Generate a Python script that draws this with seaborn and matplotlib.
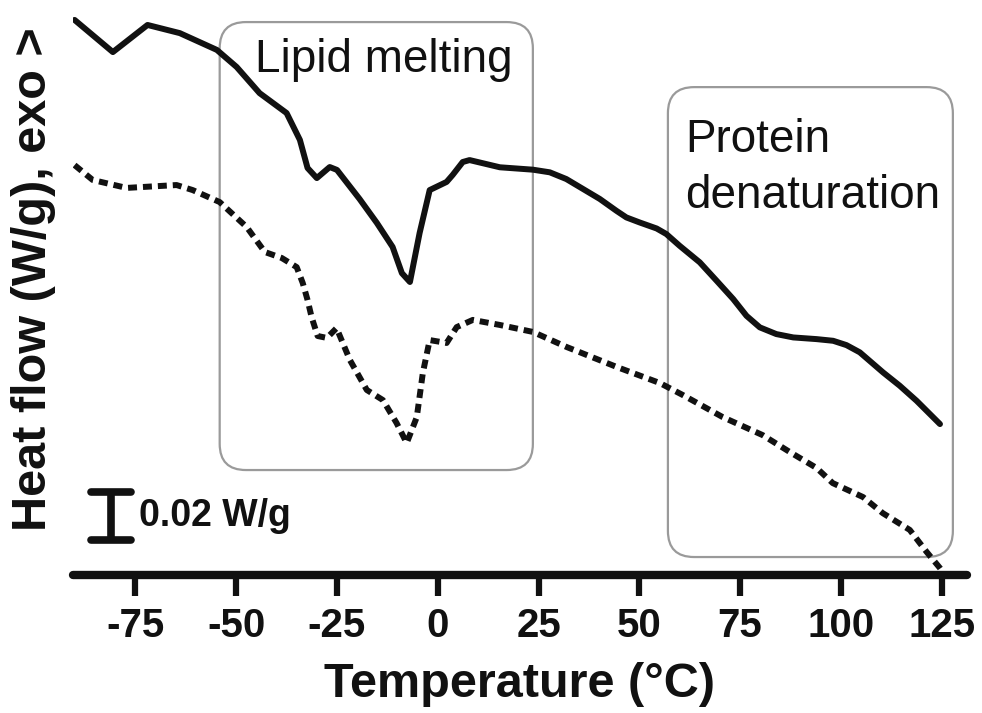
import pandas as pd
import matplotlib.pyplot as plt
import seaborn as sns
from matplotlib.patches import FancyBboxPatch

# -----------------------------------------------------------------------------
# data: DSC thermograms (heat flow relative, mW/g, exo up)
# -----------------------------------------------------------------------------
temp_solid = [-90.1, -80.6, -72.0, -64.0, -54.8, -49.9, -44.2, -37.5, -34.2, -32.3,
              -30.0, -26.8, -25.0, -19.4, -15.1, -11.2, -8.9, -6.9, -4.5, -2.0,
              2.2, 3.7, 6.2, 7.9, 15.4, 23.6, 27.8, 31.9, 36.1, 40.2,
              44.3, 46.8, 50.1, 54.3, 56.7, 60.0, 65.0, 69.2, 73.3, 76.6,
              79.9, 84.0, 88.2, 94.0, 98.1, 101.4, 104.7, 110.5, 114.6, 118.8,
              124.6]
flow_solid = [231.3, 217.9, 229.2, 225.8, 218.8, 211.7, 200.8, 192.5, 181.3, 169.6,
              165.4, 170.0, 168.8, 156.7, 146.7, 136.7, 125.8, 122.1, 142.5, 160.4,
              163.8, 166.7, 172.1, 172.9, 169.9, 168.9, 167.8, 165.0, 160.8, 156.7,
              151.8, 149.0, 146.9, 144.4, 142.1, 137.2, 130.3, 122.6, 115.0, 108.0,
              103.2, 100.4, 99.0, 98.3, 97.6, 95.8, 92.8, 84.4, 78.9, 72.6,
              62.9]

temp_dashed = [-90.1, -85.6, -77.2, -64.8, -60.8, -54.1, -47.4, -42.9, -38.7, -35.0,
               -33.5, -32.3, -31.3, -29.8, -27.5, -25.1, -21.8, -17.6, -13.6, -10.2,
               -7.7, -5.2, -3.7, -2.0, 2.2, 4.7, 8.7, 15.4, 23.6, 32.0,
               44.4, 55.1, 60.8, 70.7, 80.6, 87.3, 94.0, 98.0, 105.5, 110.4,
               117.1, 121.3, 124.6, 125.8]
flow_dashed = [170.8, 164.6, 161.3, 162.5, 160.4, 155.4, 145.0, 134.6, 132.1, 128.3,
               121.7, 114.6, 107.5, 99.6, 98.8, 102.9, 89.6, 77.1, 72.9, 63.3,
               55.0, 65.8, 84.2, 97.9, 96.7, 103.3, 106.3, 104.2, 101.3, 95.0,
               86.7, 80.0, 75.0, 65.8, 58.3, 51.3, 44.6, 38.3, 32.5, 25.8,
               18.8, 9.6, 2.9, 0.0]

xticks = [-75, -50, -25, 0, 25, 50, 75, 100, 125]
scale_bar = 20.0  # mW/g = 0.02 W/g

df_solid = pd.DataFrame({'T': temp_solid, 'HF': flow_solid})
df_dashed = pd.DataFrame({'T': temp_dashed, 'HF': flow_dashed})

# -----------------------------------------------------------------------------
# style
# -----------------------------------------------------------------------------
sns.set_theme(style="white")
plt.rcParams['font.family'] = ['Liberation Sans', 'DejaVu Sans']

fig = plt.figure(figsize=(9.82, 7.13), dpi=100)
ax = fig.add_axes([0.0743, 0.1935, 0.910, 0.8065])

ink = '#111111'
sns.lineplot(data=df_solid, x='T', y='HF', ax=ax, color=ink, linewidth=4.3, sort=False)
sns.lineplot(data=df_dashed, x='T', y='HF', ax=ax, color=ink, linewidth=4.3, sort=False,
             linestyle=(0, (1.5, 1.0)))
for ln in ax.get_lines():
    ln.set_solid_joinstyle('round')
    ln.set_dash_joinstyle('round')

ax.set_xlim(-90.5, 131.2)
ax.set_ylim(0, 239.6)

# boxes round the transitions
box_col = '#9a9a9a'
aspect = 4.03 / 2.4
for (x0, x1, y0, y1) in [(-54.1, 23.6, 43.75, 230.4), (57.1, 127.8, 7.5, 203.3)]:
    ax.add_patch(FancyBboxPatch((x0, y0), x1 - x0, y1 - y0,
                                boxstyle='round,pad=0,rounding_size=6.5',
                                mutation_aspect=aspect, fill=False,
                                edgecolor=box_col, linewidth=1.6, zorder=1))

ax.text(-45.4, 223.75, 'Lipid melting', fontsize=33, ha='left', va='top', color=ink)
ax.text(61.3, 190.4, 'Protein\ndenaturation', fontsize=33, ha='left', va='top',
        color=ink, linespacing=1.35)

# scale bar
ax.plot([-81.1, -81.1], [14.6, 14.6 + scale_bar], color=ink, lw=5.5, solid_capstyle='butt')
for yy in [14.6, 14.6 + scale_bar]:
    ax.plot([-86.0, -76.2], [yy, yy], color=ink, lw=5.5, solid_capstyle='round')
ax.text(-74.0, 14.6 + scale_bar / 2, '0.02 W/g', fontsize=27, fontweight='bold',
        ha='left', va='center', color=ink)

# axes
sns.despine(ax=ax, left=True, top=True, right=True)
ax.spines['bottom'].set_linewidth(6)
ax.spines['bottom'].set_color(ink)
ax.spines['bottom'].set_capstyle('round')
ax.set_yticks([])
ax.set_xticks(xticks)
ax.set_xticklabels([str(t) for t in xticks], fontsize=29, fontweight='bold', color=ink)
ax.tick_params(axis='x', direction='out', length=15, width=4.5, color=ink, pad=8,
               bottom=True)
ax.grid(False)

ax.set_xlabel('Temperature (°C)', fontsize=35, fontweight='bold', color=ink, va='top')
ax.xaxis.set_label_coords(0.5, -0.151)
ax.set_ylabel('')
fig.text(0.034, 0.609, 'Heat flow (W/g), exo >', rotation=90, fontsize=35,
         fontweight='bold', ha='center', va='center', color=ink)

fig.savefig('out.png', dpi=100)
